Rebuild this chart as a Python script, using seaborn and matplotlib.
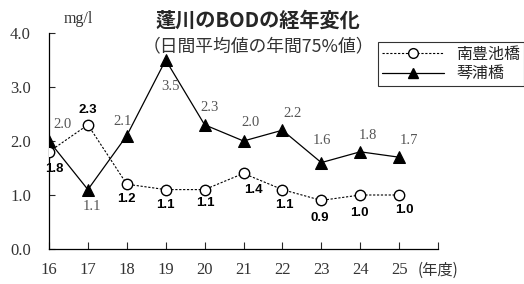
import matplotlib
matplotlib.use("Agg")
import matplotlib.pyplot as plt
import seaborn as sns
import pandas as pd
from matplotlib.lines import Line2D

years = [16, 17, 18, 19, 20, 21, 22, 23, 24, 25]
nanpo = [1.8, 2.3, 1.2, 1.1, 1.1, 1.4, 1.1, 0.9, 1.0, 1.0]   # 南豊池橋
kotoura = [2.0, 1.1, 2.1, 3.5, 2.3, 2.0, 2.2, 1.6, 1.8, 1.7]  # 琴浦橋
series_names = ["南豊池橋", "琴浦橋"]
yticks = [0.0, 1.0, 2.0, 3.0, 4.0]
unit_label = "(年度)"

# label offsets (pixels) for data labels
kot_off = [(13, 16), (4, -17), (-4, 14), (5, -27), (5, 17), (7, 18), (10, 17), (1, 22), (8, 16), (10, 17)]
nan_off = [(5, -17), (0, 15), (0, -15), (0, -15), (1, -13), (10, -17), (2, -15), (-2, -18), (-1, -18), (5, -15)]

sns.set_style("white")
plt.rcParams['font.family'] = ['Noto Sans CJK JP', 'DejaVu Sans']

fig = plt.figure(figsize=(5.24, 2.84), dpi=100)
ax = fig.add_axes([49/524, 1-249/284, (438-49)/524, (249-33)/284])

df_k = pd.DataFrame({"year": years, "val": kotoura})
df_n = pd.DataFrame({"year": years, "val": nanpo})

sns.lineplot(data=df_k, x="year", y="val", ax=ax, color="black", linewidth=0.9,
             marker="^", markersize=8.5, markerfacecolor="black", markeredgecolor="black",
             zorder=3)
sns.lineplot(data=df_n, x="year", y="val", ax=ax, color="black", linewidth=0.8,
             linestyle=(0, (2, 1.5)), marker="o", markersize=7.5,
             markerfacecolor="white", markeredgecolor="black", markeredgewidth=1.0,
             zorder=4)

for x, v, off in zip(years, kotoura, kot_off):
    ax.annotate(f"{v:.1f}", (x, v), xytext=off, textcoords="offset pixels",
                ha="center", va="center", fontsize=10.5, color="#555555",
                family=["Liberation Serif"], annotation_clip=False)
for x, v, off in zip(years, nanpo, nan_off):
    ax.annotate(f"{v:.1f}", (x, v), xytext=off, textcoords="offset pixels",
                ha="center", va="center", fontsize=9.5, color="black",
                fontweight="bold", family=["Liberation Sans"],
                annotation_clip=False)

ax.set_xlim(16, 26)
ax.set_ylim(0, 4)
ax.set_xticks(list(range(16, 27)))
ax.set_xticklabels([str(y) for y in years] + [unit_label])
ax.set_yticks(yticks)
ax.set_yticklabels([f"{t:.1f}" for t in yticks])
ax.set_xlabel("")
ax.set_ylabel("")

for lab in ax.get_xticklabels() + ax.get_yticklabels():
    lab.set_fontfamily(["Liberation Serif"])
    lab.set_fontsize(12)
    lab.set_color("#333333")
xl = ax.get_xticklabels()[-1]
xl.set_fontfamily(["Noto Sans CJK JP"])
xl.set_fontsize(11)

ax.tick_params(axis="y", direction="in", length=4, width=0.8, pad=13, left=True)
ax.tick_params(axis="x", direction="in", length=5, width=0.8, pad=9, bottom=True)

for s in ["top", "right"]:
    ax.spines[s].set_visible(False)
for s in ["left", "bottom"]:
    ax.spines[s].set_color("black")
    ax.spines[s].set_linewidth(0.9)

fig.text(93/524, 1-19/284, "mg/l", ha="right", va="center", fontsize=11.5,
         family=["Liberation Serif"], color="#333333")
fig.text(258/524, 1-20/284, "蓬川のBODの経年変化", ha="center", va="center",
         fontsize=14.5, fontweight="bold", family=["Noto Sans CJK JP"])
fig.text(258/524, 1-46/284, "（日間平均値の年間75%値）", ha="center", va="center",
         fontsize=12.8, family=["Noto Sans CJK JP"], color="#333333")

handles = [
    Line2D([], [], color="black", linewidth=0.8, linestyle=(0, (2, 1.5)), marker="o",
           markersize=7, markerfacecolor="white", markeredgecolor="black"),
    Line2D([], [], color="black", linewidth=0.9, marker="^", markersize=7,
           markerfacecolor="black", markeredgecolor="black"),
]
leg = fig.legend(handles, series_names, loc="upper left",
                 bbox_to_anchor=(378/524, 1-42/284), bbox_transform=fig.transFigure,
                 borderaxespad=0, frameon=True, fancybox=False, handlelength=3.9,
                 borderpad=0.25, labelspacing=0.15, handletextpad=0.75,
                 prop={"family": ["Noto Sans CJK JP"], "size": 11.5})
leg.get_frame().set_edgecolor("black")
leg.get_frame().set_linewidth(0.8)

fig.savefig("out.png", dpi=100)
